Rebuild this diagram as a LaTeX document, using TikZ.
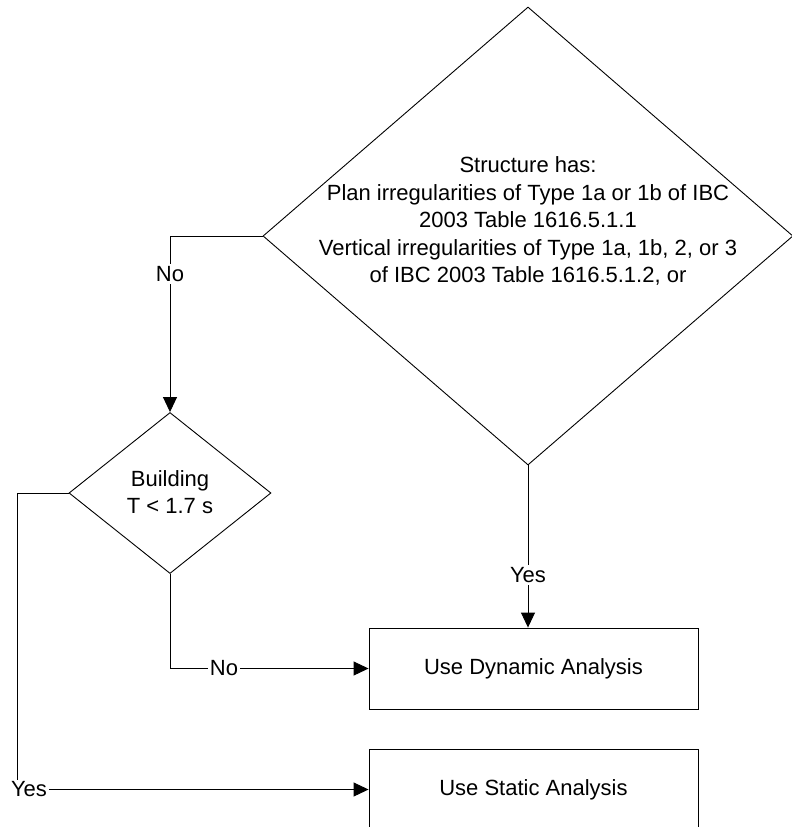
\documentclass[tikz,border=0pt]{standalone}
\usepackage{fontspec}
\setmainfont{Liberation Sans}
\usetikzlibrary{shapes.geometric,arrows.meta}
\begin{document}
\begin{tikzpicture}[x=1pt,y=-1pt,
  every node/.style={font=\fontsize{22}{27.5}\selectfont},
  dec/.style={shape=diamond,draw,line width=0.9pt,inner sep=0pt,aspect=1},
  procbox/.style={draw,line width=0.9pt,minimum width=329pt,minimum height=81pt,inner sep=0pt},
  conn/.style={line width=0.9pt},
  arr/.style={line width=0.9pt,-{Triangle[length=15pt,width=14pt]}},
  lbl/.style={fill=white,inner sep=2pt,align=center}]
\useasboundingbox (0,0) rectangle (792,827);
\clip (0,0) rectangle (792,827);
% big decision
\node[dec,minimum width=530pt,minimum height=458pt] (bd) at (528,236) {};
\node[align=center] (bdt) at (528,221) {Structure has:\\Plan irregularities of Type 1a or 1b of IBC\\2003 Table 1616.5.1.1\\Vertical irregularities of Type 1a, 1b, 2, or 3\\of IBC 2003 Table 1616.5.1.2, or};
% small decision
\node[dec,minimum width=202pt,minimum height=161pt] (sd) at (170,493) {};
\node[align=center] (sdt) at (170,492) {Building\\T < 1.7 s};
% boxes
\node[procbox] (dyn) at (533.5,668.5) {Use Dynamic Analysis};
\node[procbox] (sta) at (533.5,789.5) {Use Static Analysis};
% connectors
\coordinate (c1) at (170,236);
\draw[arr] (bd.west) -- (c1) -- (sd.north);
\node[lbl] (no1) at (170,274) {No};
\draw[arr] (bd.south) -- (bd.south |- dyn.north);
\node[lbl] (yes1) at (528,575) {Yes};
\coordinate (c2) at (170,668.5);
\draw[arr] (sd.south) -- (c2) -- (dyn.west);
\node[lbl] (no2) at (224,668.5) {No};
\coordinate (c3) at (17,493);
\coordinate (c4) at (17,789.5);
\draw[arr] (sd.west) -- (c3) -- (c4) -- (sta.west);
\node[lbl] (yes2) at (29,789.5) {Yes};
\end{tikzpicture}
\end{document}
